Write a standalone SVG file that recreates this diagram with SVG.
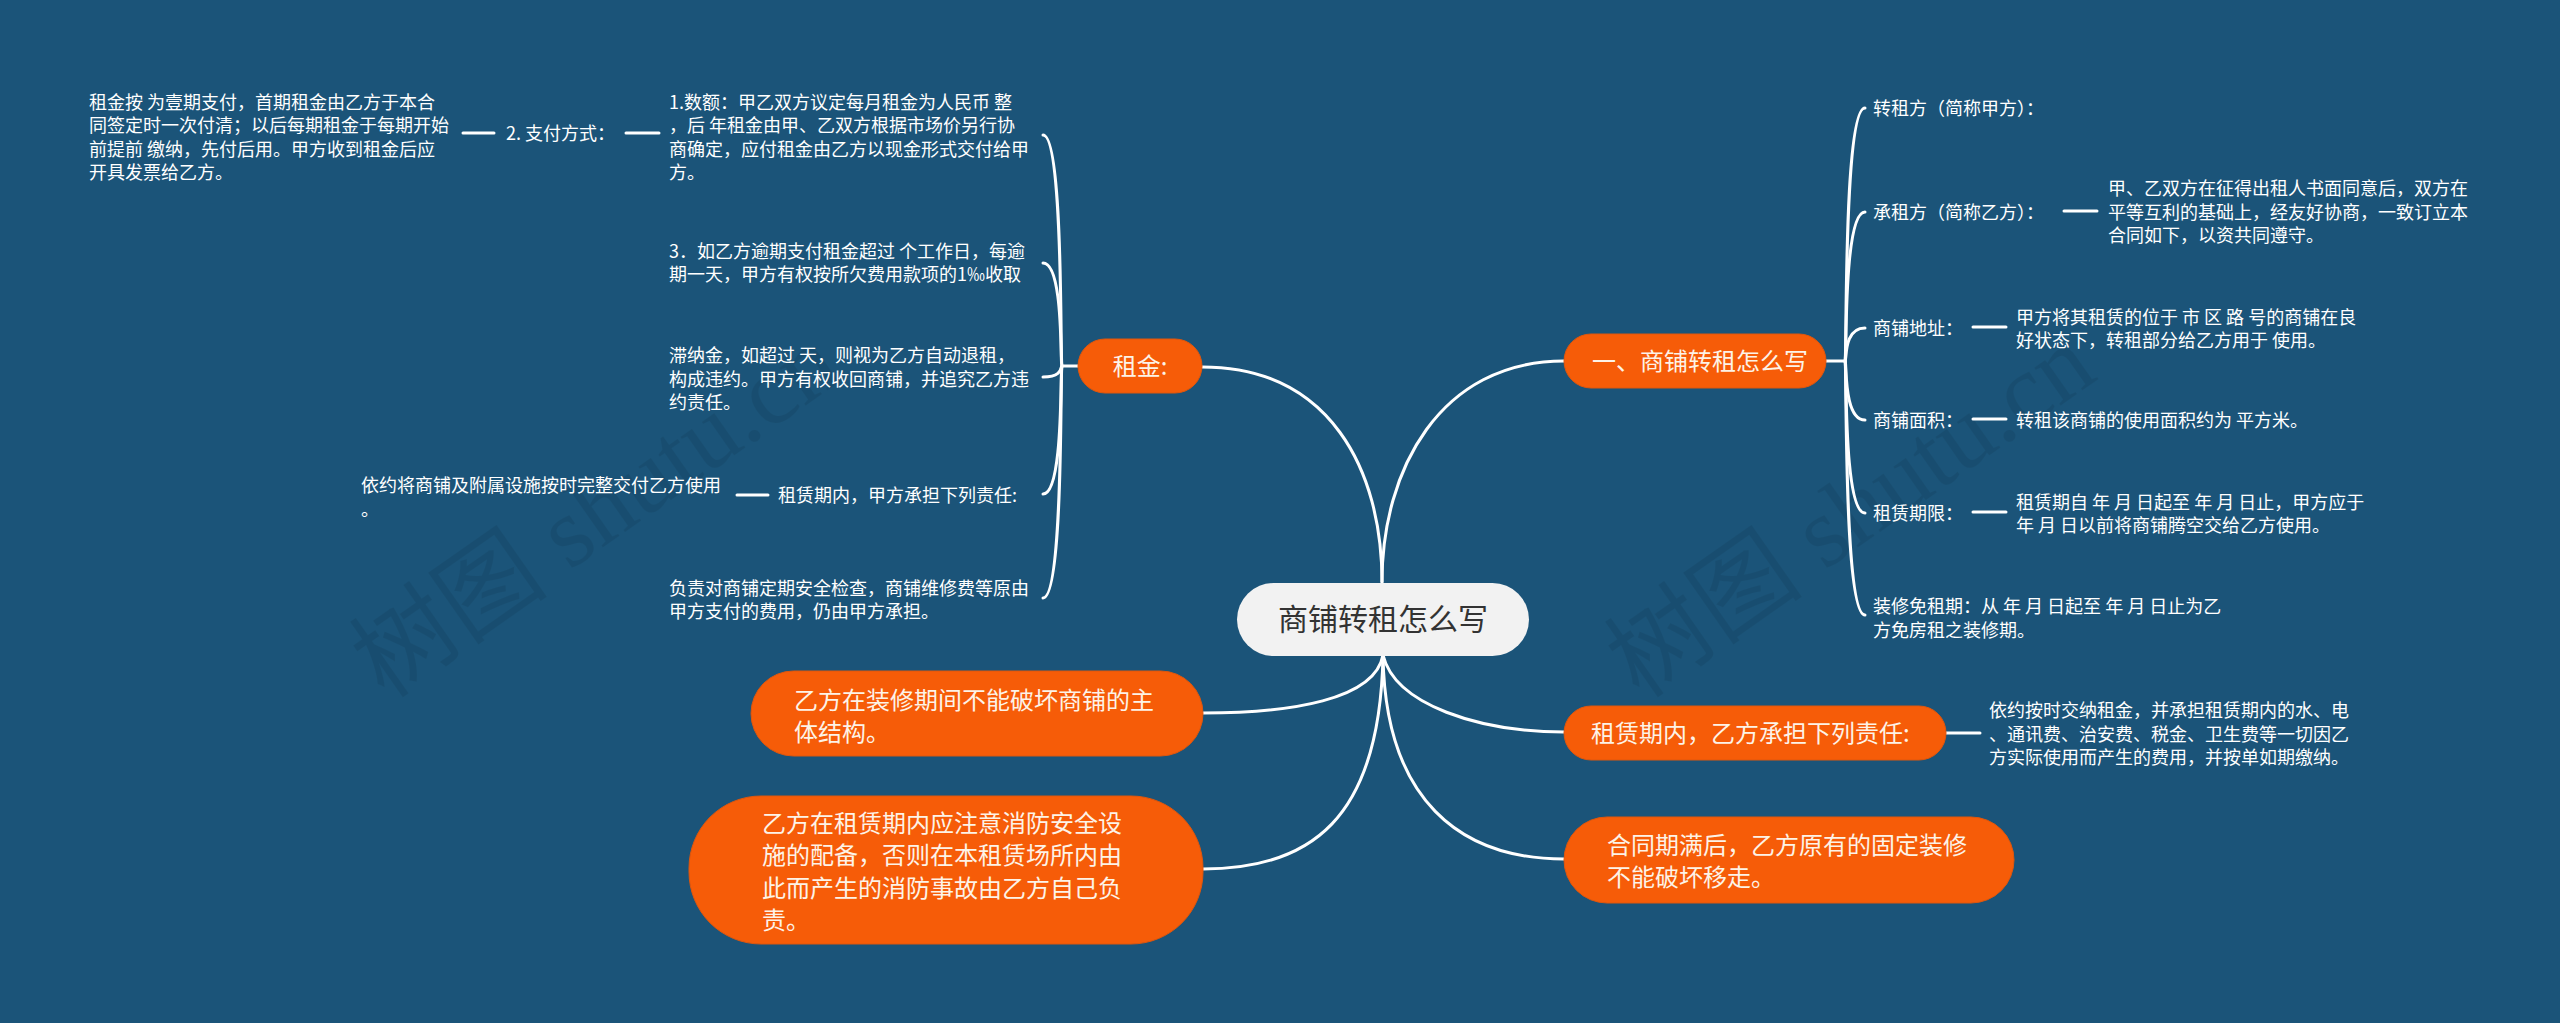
<svg xmlns="http://www.w3.org/2000/svg" width="2560" height="1023" viewBox="0 0 2560 1023">
<style>
.bg{fill:#1b5479}
.wm{font-family:"Liberation Serif","Noto Sans CJK SC",serif;font-size:100px;fill:#000;opacity:0.07}
.ln{fill:none;stroke:#ffffff;stroke-width:3;stroke-linecap:round}
.on{fill:#f65c08;stroke:#e0560c;stroke-width:1}
.ot{font-family:"Noto Sans CJK SC","Noto Sans",sans-serif;font-size:24px;fill:#fdf3e7}
.lt{font-family:"Noto Sans CJK SC","Noto Sans",sans-serif;font-size:18px;fill:#ffffff}
.ct{font-family:"Noto Sans CJK SC","Noto Sans",sans-serif;font-size:30px;fill:#333333}
</style>
<rect class="bg" x="0" y="0" width="2560" height="1023"/>
<text class="wm" transform="translate(385,700) rotate(-35)">树图 shutu.cn</text>
<text class="wm" transform="translate(1640,700) rotate(-35)">树图 shutu.cn</text>

<g id="connectors">
<path class="ln" d="M1202,367 C1330,367 1382,470 1382,582"/>
<path class="ln" d="M1382,582 C1382,470 1440,361 1564,361"/>
<path class="ln" d="M1383,655 C1375,700 1290,713 1203,713"/>
<path class="ln" d="M1383,655 C1380,820 1310,869 1203,869"/>
<path class="ln" d="M1383,655 C1395,705 1480,732 1564,732"/>
<path class="ln" d="M1383,655 C1385,800 1460,859 1564,859"/>
<path class="ln" d="M1826,361 L1845,361"/>
<path class="ln" d="M1845,361 C1847,361 1843,108 1865,108"/>
<path class="ln" d="M1845,361 C1847,361 1843,212 1865,212"/>
<path class="ln" d="M1845,361 C1847,361 1843,328 1865,328"/>
<path class="ln" d="M1845,361 C1847,361 1843,420 1865,420"/>
<path class="ln" d="M1845,361 C1847,361 1843,513 1865,513"/>
<path class="ln" d="M1845,361 C1847,361 1843,615 1865,615"/>
<path class="ln" d="M2064,211 L2097,211"/>
<path class="ln" d="M1973,327 L2006,327"/>
<path class="ln" d="M1973,419 L2006,419"/>
<path class="ln" d="M1973,512 L2006,512"/>
<path class="ln" d="M1946,733 L1980,733"/>
<path class="ln" d="M1078,366 L1062,366"/>
<path class="ln" d="M1062,366 C1060,366 1064,135 1043,135"/>
<path class="ln" d="M1062,366 C1060,366 1064,263 1043,263"/>
<path class="ln" d="M1062,366 C1060,366 1064,377 1043,377"/>
<path class="ln" d="M1062,366 C1060,366 1064,494 1043,494"/>
<path class="ln" d="M1062,366 C1060,366 1064,598 1043,598"/>
<path class="ln" d="M626,133 L659,133"/>
<path class="ln" d="M463,133 L494,133"/>
<path class="ln" d="M737,495 L768,495"/>
</g>

<g id="root">
<rect x="1237" y="583" width="292" height="73" rx="36.5" fill="#f2f2f2"/>
<text class="ct" x="1383" y="630" text-anchor="middle">商铺转租怎么写</text>
</g>

<g id="n-yi">
<rect class="on" x="1564" y="334" width="262" height="54" rx="27"/>
<text class="ot" x="1592" y="370">一、商铺转租怎么写</text>
</g>
<g id="n-zuanzufang">
<text class="lt" x="1873" y="115">转租方（简称甲方）：</text>
</g>
<g id="n-chengzufang">
<text class="lt" x="1873" y="219">承租方（简称乙方）：</text>
</g>
<g id="n-chengzufang-leaf">
<text class="lt" x="2108" y="195">甲、乙双方在征得出租人书面同意后，双方在</text>
<text class="lt" x="2108" y="218.5">平等互利的基础上，经友好协商，一致订立本</text>
<text class="lt" x="2108" y="242">合同如下，以资共同遵守。</text>
</g>
<g id="n-dizhi">
<text class="lt" x="1873" y="335">商铺地址：</text>
</g>
<g id="n-dizhi-leaf">
<text class="lt" x="2016" y="324">甲方将其租赁的位于 市 区 路 号的商铺在良</text>
<text class="lt" x="2016" y="347">好状态下，转租部分给乙方用于 使用。</text>
</g>
<g id="n-mianji">
<text class="lt" x="1873" y="427">商铺面积：</text>
</g>
<g id="n-mianji-leaf">
<text class="lt" x="2016" y="427">转租该商铺的使用面积约为 平方米。</text>
</g>
<g id="n-qixian">
<text class="lt" x="1873" y="520">租赁期限：</text>
</g>
<g id="n-qixian-leaf">
<text class="lt" x="2016" y="509">租赁期自 年 月 日起至 年 月 日止，甲方应于</text>
<text class="lt" x="2016" y="532"> 年 月 日以前将商铺腾空交给乙方使用。</text>
</g>
<g id="n-mianzuqi">
<text class="lt" x="1873" y="613">装修免租期：从 年 月 日起至 年 月 日止为乙</text>
<text class="lt" x="1873" y="637">方免房租之装修期。</text>
</g>

<g id="n-yifang-zeren">
<rect class="on" x="1564" y="706" width="382" height="54" rx="27"/>
<text class="ot" x="1591" y="742">租赁期内，乙方承担下列责任:</text>
</g>
<g id="n-yifang-zeren-leaf">
<text class="lt" x="1989" y="717">依约按时交纳租金，并承担租赁期内的水、电</text>
<text class="lt" x="1989" y="741">、通讯费、治安费、税金、卫生费等一切因乙</text>
<text class="lt" x="1989" y="764">方实际使用而产生的费用，并按单如期缴纳。</text>
</g>
<g id="n-hetong">
<rect class="on" x="1564" y="817" width="450" height="86" rx="43"/>
<text class="ot" x="1607" y="854">合同期满后，乙方原有的固定装修</text>
<text class="ot" x="1607" y="886">不能破坏移走。</text>
</g>

<g id="n-zhuangxiu">
<rect class="on" x="751" y="671" width="452" height="85" rx="42.5"/>
<text class="ot" x="794" y="709">乙方在装修期间不能破坏商铺的主</text>
<text class="ot" x="794" y="741">体结构。</text>
</g>
<g id="n-xiaofang">
<rect class="on" x="689" y="796" width="514" height="148" rx="72"/>
<text class="ot" x="762" y="832">乙方在租赁期内应注意消防安全设</text>
<text class="ot" x="762" y="864">施的配备，否则在本租赁场所内由</text>
<text class="ot" x="762" y="897">此而产生的消防事故由乙方自己负</text>
<text class="ot" x="762" y="929">责。</text>
</g>

<g id="n-zujin">
<rect class="on" x="1078" y="339" width="124" height="54" rx="27"/>
<text class="ot" x="1140" y="375" text-anchor="middle">租金:</text>
</g>
<g id="n-shue">
<text class="lt" x="669" y="109">1.数额：甲乙双方议定每月租金为人民币 整</text>
<text class="lt" x="669" y="132.3">，后 年租金由甲、乙双方根据市场价另行协</text>
<text class="lt" x="669" y="155.6">商确定，应付租金由乙方以现金形式交付给甲</text>
<text class="lt" x="669" y="179">方。</text>
</g>
<g id="n-zhifu">
<text class="lt" x="506" y="140">2. 支付方式：</text>
</g>
<g id="n-zhifu-leaf">
<text class="lt" x="89" y="109">租金按 为壹期支付，首期租金由乙方于本合</text>
<text class="lt" x="89" y="132.3">同签定时一次付清；以后每期租金于每期开始</text>
<text class="lt" x="89" y="155.6">前提前 缴纳，先付后用。甲方收到租金后应</text>
<text class="lt" x="89" y="179">开具发票给乙方。</text>
</g>
<g id="n-yuqi">
<text class="lt" x="669" y="258">3．如乙方逾期支付租金超过 个工作日，每逾</text>
<text class="lt" x="669" y="281">期一天，甲方有权按所欠费用款项的1‰收取</text>
</g>
<g id="n-zhinajin">
<text class="lt" x="669" y="362">滞纳金，如超过 天，则视为乙方自动退租，</text>
<text class="lt" x="669" y="385.5">构成违约。甲方有权收回商铺，并追究乙方违</text>
<text class="lt" x="669" y="409">约责任。</text>
</g>
<g id="n-jiafang-zeren">
<text class="lt" x="778" y="502">租赁期内，甲方承担下列责任:</text>
</g>
<g id="n-jiafang-zeren-leaf">
<text class="lt" x="361" y="492">依约将商铺及附属设施按时完整交付乙方使用</text>
<text class="lt" x="361" y="515.5">。</text>
</g>
<g id="n-jiancha">
<text class="lt" x="669" y="595">负责对商铺定期安全检查，商铺维修费等原由</text>
<text class="lt" x="669" y="618">甲方支付的费用，仍由甲方承担。</text>
</g>
</svg>
